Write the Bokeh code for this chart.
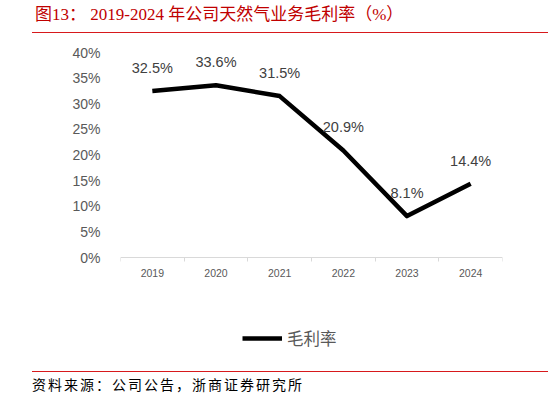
from bokeh.plotting import figure
from bokeh.models import (ColumnDataSource, Range1d, FixedTicker, Legend, LegendItem, Div,
                          PrintfTickFormatter, LabelSet)
from bokeh.core.properties import value
from bokeh.layouts import column
from bokeh.embed import file_html
from bokeh.resources import INLINE

years = ["2019", "2020", "2021", "2022", "2023", "2024"]
margin = [32.5, 33.6, 31.5, 20.9, 8.1, 14.4]
labels = ["32.5%", "33.6%", "31.5%", "20.9%", "8.1%", "14.4%"]
series_name = "毛利率"
title_text = "图13：&nbsp;2019-2024 年公司天然气业务毛利率（%）"
source_text = "资料来源：公司公告，浙商证券研究所"

RED = "#d7191c"
xs = list(range(len(years)))
src = ColumnDataSource(dict(x=xs, y=margin, lab=labels))

title_div = Div(
    text=('<div style="margin-left:32px;width:516px;height:33px;box-sizing:border-box;'
          'border-bottom:1.5px solid %s;color:#c00000;font-family:\'Liberation Serif\',\'Noto Sans CJK SC\';'
          'font-size:17px;line-height:17px;padding-left:3px;padding-top:6px;white-space:nowrap;">%s</div>'
          % (RED, title_text)),
    width=548, height=33, margin=(0, 0, 0, 0))

p = figure(width=548, height=338, output_backend="svg", toolbar_location=None,
           x_range=Range1d(-0.5, len(years) - 0.5), y_range=Range1d(-18.5, 40),
           min_border_left=120, min_border_right=46, min_border_top=19, min_border_bottom=19,
           outline_line_color=None, margin=(0, 0, 0, 0))
p.grid.grid_line_color = None
p.background_fill_color = "white"
p.border_fill_color = "white"

ln = p.line("x", "y", source=src, line_color="black", line_width=4.5, line_join="round")
p.add_layout(LabelSet(x="x", y="y", text="lab", source=src, text_align="center",
                      text_baseline="middle", y_offset=23, text_font_size="14.5px",
                      text_color="#404040", text_font=value("Liberation Sans")))

p.xaxis.fixed_location = 0
p.xaxis.ticker = FixedTicker(ticks=xs, minor_ticks=[i - 0.5 for i in range(len(years) + 1)])
p.xaxis.major_label_overrides = {i: y for i, y in enumerate(years)}
p.xaxis.major_tick_out = 0
p.xaxis.major_tick_in = 0
p.xaxis.minor_tick_out = 4
p.xaxis.minor_tick_in = 0
p.xaxis.minor_tick_line_color = "#d9d9d9"
p.xaxis.axis_line_color = "#d9d9d9"
p.xaxis.major_label_text_font_size = "10.5px"
p.xaxis.major_label_text_color = "#595959"
p.xaxis.major_label_text_font = "Liberation Sans"
p.xaxis.major_label_standoff = 7

p.yaxis.ticker = FixedTicker(ticks=list(range(0, 41, 5)))
p.yaxis.formatter = PrintfTickFormatter(format="%d%%")
p.yaxis.axis_line_color = None
p.yaxis.major_tick_line_color = None
p.yaxis.minor_tick_line_color = None
p.yaxis.major_label_text_font_size = "14px"
p.yaxis.major_label_text_color = "#595959"
p.yaxis.major_label_text_font = "Liberation Sans"
p.yaxis.major_label_standoff = 14

legend = Legend(items=[LegendItem(label=series_name, renderers=[ln])], location=(122, 2),
                orientation="horizontal", border_line_color=None, background_fill_alpha=0,
                label_text_font="Noto Sans CJK SC", label_text_font_size="16.5px",
                label_text_color="#595959", glyph_width=40, glyph_height=16,
                label_standoff=5, margin=0, padding=0, spacing=0)
p.add_layout(legend)

source_div = Div(
    text=('<div style="margin-left:32px;width:516px;height:32px;box-sizing:border-box;'
          'border-top:1.5px solid %s;color:black;font-family:\'Noto Sans CJK SC\';'
          'font-size:14px;line-height:16px;padding-top:4px;letter-spacing:2px;white-space:nowrap;">%s</div>'
          % (RED, source_text)),
    width=548, height=32, margin=(0, 0, 0, 0))

layout = column(title_div, p, source_div, spacing=0)
open("out.html", "w").write(file_html(layout, INLINE))
